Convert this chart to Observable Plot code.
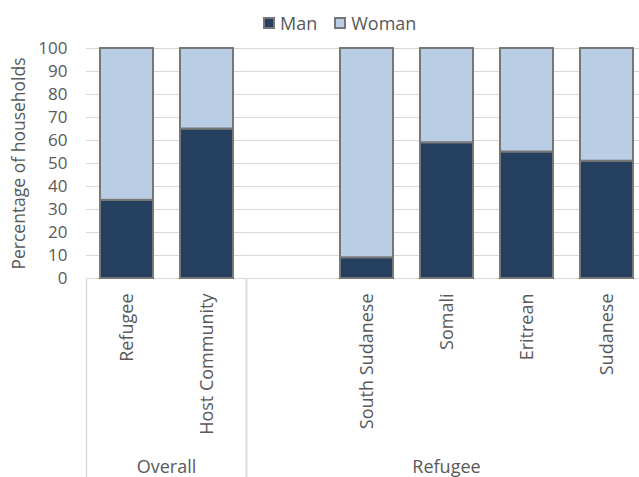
<!DOCTYPE html>
<html><head><meta charset="utf-8">
<script src="https://cdn.jsdelivr.net/npm/d3@7"></script>
<script src="https://cdn.jsdelivr.net/npm/@observablehq/plot@0.6"></script>
<style>
html,body{margin:0;padding:0;background:#fff;}
#wrap{position:relative;width:639px;height:477px;overflow:hidden;font-family:"Open Sans",sans-serif;}
#wrap svg{max-width:none;width:660px;height:477px;display:block;}
#legend{position:absolute;top:13px;left:263px;display:flex;align-items:center;font-size:18px;color:#595959;line-height:20px;z-index:2;}
.item{display:flex;align-items:center;margin-right:17px;}
.sw{width:12px;height:12px;box-sizing:border-box;border:2px solid #767676;margin-right:5px;}
</style></head><body>
<div id="wrap"><div id="legend"></div></div>
<script>
const categories = ["Refugee", "Host Community", "", "South Sudanese", "Somali", "Eritrean", "Sudanese"];
const groupOf = ["Overall", "Overall", "Refugee", "Refugee", "Refugee", "Refugee", "Refugee"];
const groups = ["Overall", "Refugee"];
const manPct = [34, 65, null, 9, 59, 55, 51];
const womanPct = [66, 35, null, 91, 41, 45, 49];
const series = ["Man", "Woman"];
const colors = ["#253F5F", "#B9CDE5"];
const yTicks = [0, 10, 20, 30, 40, 50, 60, 70, 80, 90, 100];
const yLabel = "Percentage of households";

const rows = [];
categories.forEach((c, i) => {
  if (manPct[i] != null) rows.push({category: c, sex: "Man", value: manPct[i]});
  if (womanPct[i] != null) rows.push({category: c, sex: "Woman", value: womanPct[i]});
});

const plot = Plot.plot({
  width: 660, height: 477,
  marginTop: 48, marginBottom: 199, marginLeft: 86, marginRight: 14,
  style: {fontFamily: "Open Sans", fontSize: "18px", color: "#595959", background: "#fff"},
  x: {domain: categories, paddingInner: 0.34, paddingOuter: 0.17, axis: null},
  y: {domain: [0, 100], axis: null},
  color: {domain: series, range: colors},
  marks: [
    Plot.gridY(yTicks, {stroke: "#d9d9d9", strokeOpacity: 1, strokeWidth: 1}),
    Plot.axisY(yTicks, {tickSize: 0, tickPadding: 19, label: null, fill: "#595959", fontSize: 17}),
    Plot.barY(rows, {x: "category", y: "value", fill: "sex", stroke: "#777777", strokeWidth: 2}),
    Plot.text(categories, {x: d => d, text: d => d, frameAnchor: "bottom", rotate: -90, textAnchor: "end", lineAnchor: "middle", dy: 15, fill: "#595959", fontSize: 18}),
    Plot.text([yLabel], {text: d => d, frameAnchor: "left", rotate: -90, textAnchor: "middle", lineAnchor: "middle", dx: -67, fill: "#595959", fontSize: 17.5})
  ]
});

// group dividers and group labels from the band scale
const xs = plot.scale("x");
const ys = plot.scale("y");
const y0 = ys.apply(0);
const half = (xs.step - xs.bandwidth) / 2;
const slotStart = c => xs.apply(c) - half;
const svg = d3.select(plot);
const g = svg.append("g");
groups.forEach(name => {
  const cats = categories.filter((c, i) => groupOf[i] === name);
  const x1 = slotStart(cats[0]);
  const x2 = slotStart(cats[cats.length - 1]) + xs.step;
  [x1, x2].forEach(x => g.append("line").attr("x1", x).attr("x2", x).attr("y1", y0).attr("y2", 477)
    .attr("stroke", "#d9d9d9").attr("stroke-width", 1.5));
  g.append("text").attr("x", (x1 + x2) / 2).attr("y", y0 + 189).attr("dy", "0.35em")
    .attr("text-anchor", "middle").attr("fill", "#595959").attr("font-size", 18).text(name);
});

document.getElementById("wrap").appendChild(plot);

const legend = d3.select("#legend");
series.forEach((s, i) => {
  const it = legend.append("div").attr("class", "item");
  it.append("div").attr("class", "sw").style("background", colors[i]);
  it.append("span").text(s);
});
</script>
</body></html>
